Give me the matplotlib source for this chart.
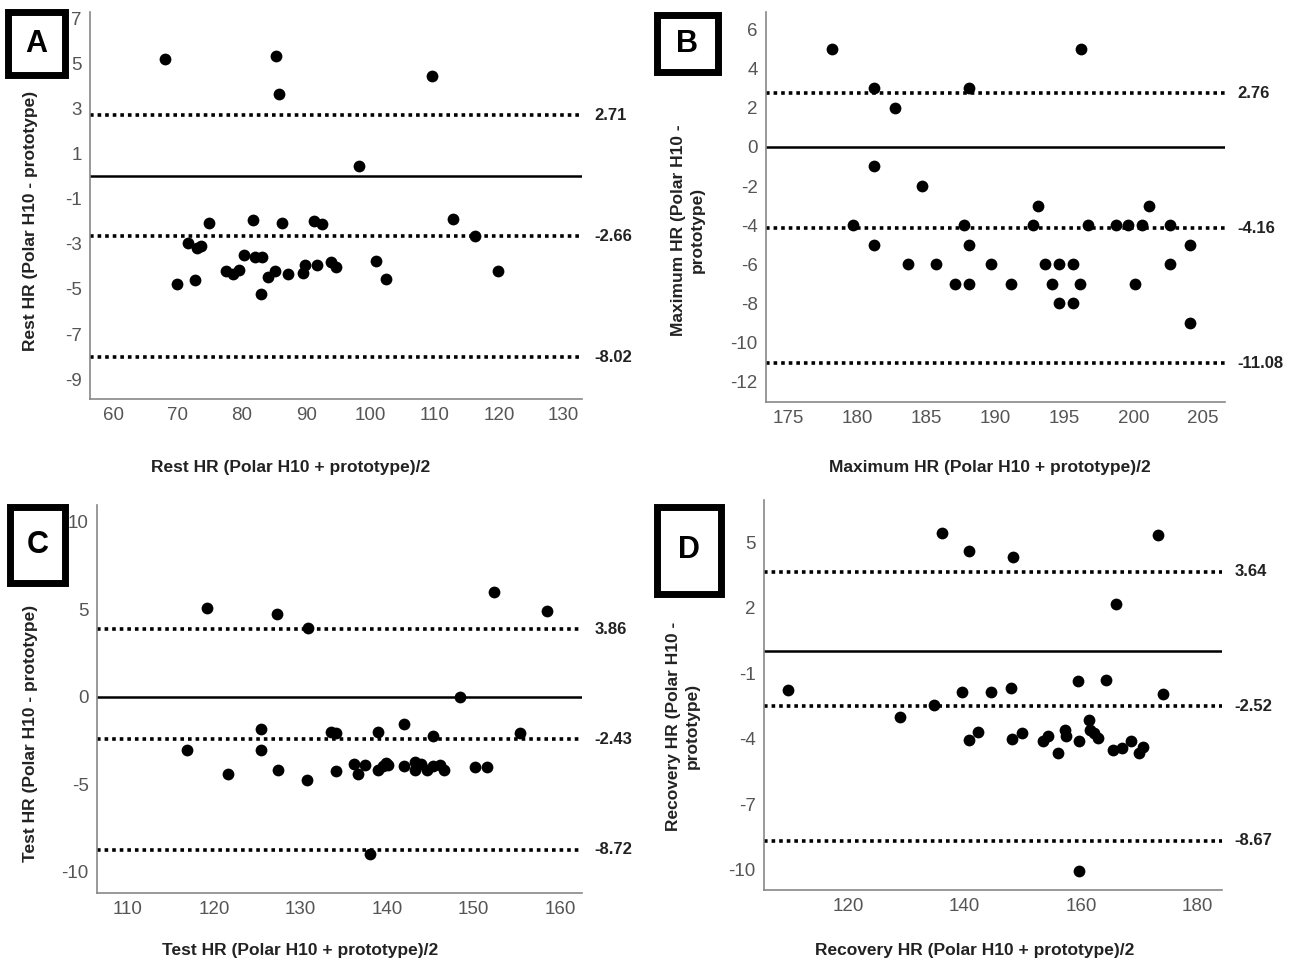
import numpy as np
import matplotlib.pyplot as plt

plt.rcParams['axes.unicode_minus'] = False

# Panel A - rest HR
rest_mean = [68.0, 85.4, 85.8, 109.6, 98.2, 74.9, 81.7, 86.3, 91.3, 92.4, 112.9, 116.3,
             71.6, 73.0, 73.7, 72.8, 69.9, 77.5, 78.6, 79.6, 80.4, 82.0, 83.2, 83.0,
             84.1, 85.2, 87.2, 89.5, 89.9, 91.7, 93.9, 94.7, 100.9, 102.4, 119.9]
rest_diff = [5.19, 5.34, 3.64, 4.45, 0.47, -2.06, -1.96, -2.06, -1.99, -2.14, -1.92, -2.65,
             -2.95, -3.17, -3.10, -4.62, -4.76, -4.22, -4.32, -4.17, -3.48, -3.58, -3.58, -5.21,
             -4.47, -4.22, -4.32, -4.28, -3.92, -3.95, -3.81, -4.03, -3.78, -4.54, -4.22]
rest_loa = [2.71, -2.66, -8.02]

# Panel B - maximum HR
max_mean = [178.2, 196.2, 181.2, 188.1, 182.7, 181.2, 184.7, 193.1, 201.1, 179.7, 187.7, 192.7,
            196.7, 198.7, 199.6, 200.6, 202.6, 181.2, 188.1, 204.1, 183.7, 185.7, 189.7, 193.6,
            194.6, 195.6, 202.6, 187.1, 188.1, 191.1, 194.1, 196.1, 200.1, 194.6, 195.6, 204.1]
max_diff = [5, 5, 3, 3, 2, -1, -2, -3, -3, -4, -4, -4,
            -4, -4, -4, -4, -4, -5, -5, -5, -6, -6, -6, -6,
            -6, -6, -6, -7, -7, -7, -7, -7, -7, -8, -8, -9]
max_loa = [2.76, -4.16, -11.08]

# Panel C - test HR
test_mean = [119.2, 127.3, 130.9, 152.3, 158.5, 148.4, 141.9, 125.4, 133.5, 134.1, 139.0, 145.3,
             155.3, 116.9, 125.4, 121.6, 127.4, 130.7, 134.1, 136.2, 136.6, 137.5, 138.0, 139.0,
             139.5, 139.9, 140.1, 142.0, 143.2, 143.2, 143.9, 144.6, 145.3, 146.1, 146.6, 150.1, 151.5]
test_diff = [5.08, 4.75, 3.96, 6.02, 4.89, 0.0, -1.57, -1.85, -1.98, -2.04, -2.0, -2.26,
             -2.04, -3.02, -3.02, -4.40, -4.15, -4.77, -4.26, -3.83, -4.40, -3.87, -9.0, -4.2,
             -3.96, -3.79, -3.89, -3.96, -3.74, -4.2, -3.83, -4.2, -3.96, -3.89, -4.2, -4.02, -4.02]
test_loa = [3.86, -2.43, -8.72]

# Panel D - recovery HR
rec_mean = [136.1, 140.8, 148.3, 173.2, 166.0, 109.8, 139.5, 144.6, 147.9, 159.4, 164.3, 174.0,
            134.7, 128.9, 140.8, 142.3, 148.1, 149.8, 153.5, 154.3, 156.1, 157.2, 157.5, 159.6,
            161.4, 161.6, 162.3, 162.9, 165.4, 167.1, 168.6, 170.0, 170.7, 159.6]
rec_diff = [5.41, 4.60, 4.34, 5.34, 2.16, -1.75, -1.88, -1.88, -1.68, -1.37, -1.30, -1.94,
            -2.44, -3.02, -4.07, -3.70, -4.0, -3.73, -4.12, -3.89, -4.65, -3.61, -3.89, -4.12,
            -3.16, -3.61, -3.73, -3.96, -4.50, -4.42, -4.12, -4.65, -4.38, -10.06]
rec_loa = [3.64, -2.52, -8.67]

panels = [
    dict(letter='A', x=rest_mean, y=rest_diff, loa=rest_loa,
         rect=[0.0697, 0.5835, 0.3811, 0.4040], xlim=(56.4, 132.9), ylim=(-9.88, 7.28),
         xticks=[60, 70, 80, 90, 100, 110, 120, 130], yticks=[7, 5, 3, 1, -1, -3, -5, -7, -9],
         ylabel='Rest HR (Polar H10 - prototype)', xlabel='Rest HR (Polar H10 + prototype)/2',
         ylab_pos=(-0.106, 0.46), xlab_pos=(0.407, -0.158), box=(8, 12, 65, 75)),
    dict(letter='B', x=max_mean, y=max_diff, loa=max_loa,
         rect=[0.5933, 0.5804, 0.3556, 0.4071], xlim=(173.4, 206.6), ylim=(-13.07, 6.92),
         xticks=[175, 180, 185, 190, 195, 200, 205], yticks=[6, 4, 2, 0, -2, -4, -6, -8, -10, -12],
         ylabel='Maximum HR (Polar H10 -\nprototype)', xlabel='Maximum HR (Polar H10 + prototype)/2',
         ylab_pos=(-0.133, 0.44), xlab_pos=(0.488, -0.149), box=(657, 15, 718, 72)),
    dict(letter='C', x=test_mean, y=test_diff, loa=test_loa,
         rect=[0.0751, 0.0679, 0.3757, 0.4050], xlim=(106.5, 162.5), ylim=(-11.2, 10.97),
         xticks=[110, 120, 130, 140, 150, 160], yticks=[10, 5, 0, -5, -10],
         ylabel='Test HR (Polar H10 - prototype)', xlabel='Test HR (Polar H10 + prototype)/2',
         ylab_pos=(-0.122, 0.41), xlab_pos=(0.419, -0.128), box=(10, 507, 65, 583)),
    dict(letter='D', x=rec_mean, y=rec_diff, loa=rec_loa,
         rect=[0.5918, 0.0710, 0.3548, 0.4071], xlim=(105.6, 184.2), ylim=(-10.92, 6.93),
         xticks=[120, 140, 160, 180], yticks=[5, 2, -1, -4, -7, -10],
         ylabel='Recovery HR (Polar H10 -\nprototype)', xlabel='Recovery HR (Polar H10 + prototype)/2',
         ylab_pos=(-0.14, 0.42), xlab_pos=(0.46, -0.136), box=(657, 507, 721, 594)),
]

W, H = 1291, 958
fig = plt.figure(figsize=(W / 100, H / 100), dpi=100)
tick_font = ['Liberation Sans Narrow', 'Liberation Sans', 'DejaVu Sans']
bold_font = ['Liberation Sans', 'DejaVu Sans']

for p in panels:
    ax = fig.add_axes(p['rect'])
    ax.scatter(p['x'], p['y'], s=72, color='black', zorder=3, linewidths=0)
    ax.axhline(0, color='black', lw=1.8, zorder=2)
    for v in p['loa']:
        ax.axhline(v, color='black', lw=2.6, linestyle=(0, (1, 1.1)), zorder=2)
        ax.annotate(f'{v:.2f}', xy=(1, v), xycoords=ax.get_yaxis_transform(),
                    xytext=(9, 0), textcoords='offset points', va='center', ha='left',
                    fontsize=12, fontweight='bold', family=tick_font, color='#222222')
    ax.set_xlim(p['xlim'])
    ax.set_ylim(p['ylim'])
    ax.set_xticks(p['xticks'])
    ax.set_yticks(p['yticks'])
    ax.tick_params(length=0, labelsize=13.5, labelcolor='#555555', pad=6)
    for lab in ax.get_xticklabels() + ax.get_yticklabels():
        lab.set_family(tick_font)
    for side in ['top', 'right']:
        ax.spines[side].set_visible(False)
    for side in ['left', 'bottom']:
        ax.spines[side].set_color('#888888')
        ax.spines[side].set_linewidth(1.2)
    ax.set_ylabel(p['ylabel'], fontsize=12.5, fontweight='bold', family=bold_font,
                  color='#222222', linespacing=1.3)
    ax.set_xlabel(p['xlabel'], fontsize=12.5, fontweight='bold', family=bold_font,
                  color='#222222')
    ax.yaxis.set_label_coords(*p['ylab_pos'])
    ax.xaxis.set_label_coords(*p['xlab_pos'])

    # boxed panel letter
    x0, y0, x1, y1 = p['box']
    rect = plt.Rectangle((x0 / W, 1 - y1 / H), (x1 - x0) / W, (y1 - y0) / H,
                         transform=fig.transFigure, fill=False, lw=5, edgecolor='black')
    fig.add_artist(rect)
    fig.text((x0 + x1) / 2 / W, 1 - (y0 + y1) / 2 / H, p['letter'], ha='center', va='center',
             fontsize=22, fontweight='bold', family=bold_font)

fig.savefig('out.png', dpi=100, facecolor='white')
